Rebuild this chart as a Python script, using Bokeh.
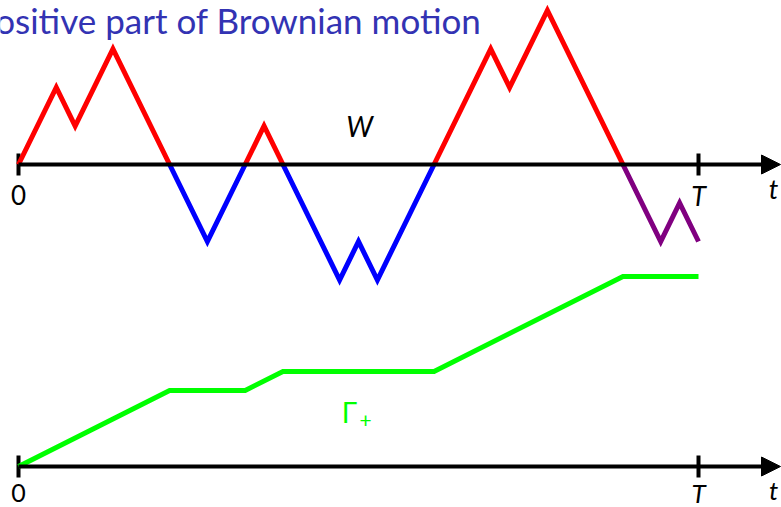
from bokeh.plotting import figure
from bokeh.models import Range1d, Arrow, NormalHead
from bokeh.embed import file_html
from bokeh.resources import INLINE
from bokeh.core.properties import value

# Random-walk path W(t) (vertices of the piecewise linear path)
w_t = [0, 2, 3, 5, 8, 10, 12, 13, 14, 17, 18, 19, 22, 25, 26, 28, 32, 34, 35, 36]
w_v = [0, 2, 1, 3, 0, -2, 0, 1, 0, -3, -2, -3, 0, 3, 2, 4, 0, -2, -1, -2]

# Occupation time of the positive half-line, Gamma_+(t)
g_t = [0, 8, 12, 14, 22, 32, 36]
g_v = [0, 8, 8, 10, 10, 20, 20]

T_END = 36
POS, NEG, OPEN = "#FF0000", "#0000FF", "#800080"
GREEN = "#00FF00"
TITLE_COLOR = "#3333B3"
FONT = "Lato"

W, H = 781, 507
sx = 680 / 36.0      # px per time unit
sw = 38.5            # px per W unit
sg = 9.5             # px per Gamma unit
x0_px, wa_px, ga_px = 18, 164, 466

p = figure(width=W, height=H, output_backend="svg", toolbar_location=None,
           x_axis_type=None, y_axis_type=None, min_border=0,
           x_range=Range1d(-x0_px / sx, (W - x0_px) / sx),
           y_range=Range1d(-(H - wa_px) / sw, wa_px / sw))
p.extra_y_ranges = {"g": Range1d(-(H - ga_px) / sg, ga_px / sg)}
p.grid.visible = False
p.outline_line_color = None
p.background_fill_color = "white"
p.border_fill_color = "white"

tip = (W - 1 - x0_px) / sx

# time axes with arrows and ticks at 0 and T
for rng, half in ((None, 11 / sw), ("g", 11 / sg)):
    kw = {} if rng is None else {"y_range_name": rng}
    p.add_layout(Arrow(end=NormalHead(size=19, fill_color="black", line_color="black", line_width=1),
                       x_start=0, y_start=0, x_end=tip, y_end=0,
                       line_width=4, line_color="black", **kw))
    p.segment(x0=[0, T_END], y0=[-half, -half], x1=[0, T_END], y1=[half, half],
              line_width=4, line_color="black", **kw)

# W path split into excursions, coloured by sign
pieces, start = [], 0
for i in range(1, len(w_t)):
    if w_v[i] == 0 or i == len(w_t) - 1:
        xs, ys = w_t[start:i + 1], w_v[start:i + 1]
        if w_v[i] != 0:
            col = OPEN
        else:
            col = POS if max(ys) > 0 else NEG
        pieces.append((xs, ys, col))
        start = i
p.multi_line(xs=[a for a, _, _ in pieces], ys=[b for _, b, _ in pieces],
             line_color=[c for _, _, c in pieces], line_width=5, line_join="miter")

# Gamma_+ curve
p.line(g_t, g_v, line_color=GREEN, line_width=5, line_join="miter", y_range_name="g")

def label(x, y, s, size, color="black", italic=False, align="center", base="middle", rng=None):
    kw = {} if rng is None else {"y_range_name": rng}
    p.text(x=[x], y=[y], text=[s], text_font=value(FONT), text_font_size=f"{size}px",
           text_color=color, text_align=align, text_baseline=base,
           text_font_style="italic" if italic else "normal", **kw)

def px_x(px):
    return (px - x0_px) / sx

# upper axis labels
label(0, (wa_px - 194) / sw, "0", 26)
label(T_END, (wa_px - 195) / sw, "T", 27, italic=True)
label(px_x(773), (wa_px - 188) / sw, "t", 27, italic=True)
label(px_x(359), (wa_px - 125) / sw, "W", 28, italic=True)

# lower axis labels
label(0, (ga_px - 492) / sg, "0", 25, rng="g")
label(T_END, (ga_px - 492) / sg, "T", 26, italic=True, rng="g")
label(px_x(773), (ga_px - 489) / sg, "t", 26, italic=True, rng="g")
label(px_x(349), (ga_px - 411) / sg, "Γ", 28, color=GREEN, rng="g")
label(px_x(365), (ga_px - 420) / sg, "+", 21, color=GREEN, rng="g")

# frame title, running off the left edge of the page
label(px_x(481), (wa_px - 19) / sw, "Positive part of Brownian motion", 35,
      color=TITLE_COLOR, align="right", base="middle")

open("out.html", "w").write(file_html(p, INLINE))
